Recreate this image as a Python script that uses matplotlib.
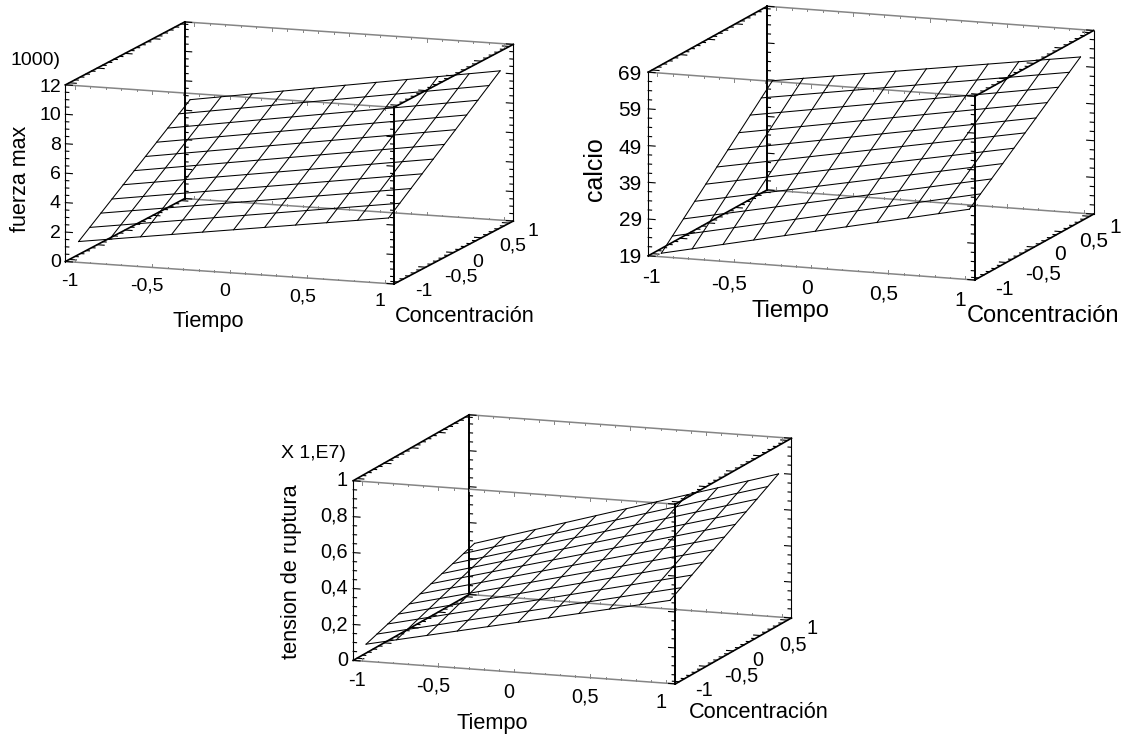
import numpy as np
import matplotlib
matplotlib.use('Agg')
import matplotlib.pyplot as plt
from mpl_toolkits.mplot3d import proj3d

plt.rcParams['font.family'] = ['Liberation Sans', 'DejaVu Sans']

ANCHO, ALTO = 1124, 734

# Malla comun a las tres superficies
tiempo = [-1, -0.8, -0.6, -0.4, -0.2, 0, 0.2, 0.4, 0.6, 0.8, 1]
concentracion = [-1, -0.8, -0.6, -0.4, -0.2, 0, 0.2, 0.4, 0.6, 0.8, 1]

lim_tiempo = (-1.06, 1.06)
lim_conc = (-1.07, 1.07)

fuerza_frente = [1.26, 1.56, 1.87, 2.17, 2.48, 2.78, 3.08, 3.39, 3.69, 4.0, 4.3]
fuerza_fondo = [6.9, 7.24, 7.58, 7.92, 8.26, 8.6, 8.94, 9.28, 9.62, 9.96, 10.3]
fuerza_izq = [1.26, 1.82, 2.39, 2.95, 3.52, 4.08, 4.64, 5.21, 5.77, 6.34, 6.9]
fuerza_der = [4.3, 4.9, 5.5, 6.1, 6.7, 7.3, 7.9, 8.5, 9.1, 9.7, 10.3]

calcio_frente = [19.3, 21.1, 22.9, 24.8, 26.6, 28.4, 30.2, 32.0, 33.9, 35.7, 37.5]
calcio_fondo = [49.5, 50.8, 52.0, 53.3, 54.6, 55.9, 57.1, 58.4, 59.7, 60.9, 62.2]
calcio_izq = [19.3, 22.3, 25.3, 28.4, 31.4, 34.4, 37.4, 40.4, 43.5, 46.5, 49.5]
calcio_der = [37.5, 40.0, 42.4, 44.9, 47.4, 49.9, 52.3, 54.8, 57.3, 59.7, 62.2]

tension_frente = [.082, .119, .155, .192, .229, .266, .302, .339, .376, .412, .449]
tension_fondo = [.30, .351, .402, .453, .504, .555, .606, .657, .708, .759, .81]
tension_izq = [.082, .104, .126, .147, .169, .191, .213, .235, .256, .278, .30]
tension_der = [.449, .485, .521, .557, .593, .630, .666, .702, .738, .774, .81]

# Marcas de los ejes
marcas_xy = [-1, -0.5, 0, 0.5, 1]
textos_xy = ['-1', '-0,5', '0', '0,5', '1']

marcas_fuerza = [0, 2, 4, 6, 8, 10, 12]
textos_fuerza = ['0', '2', '4', '6', '8', '10', '12']
marcas_calcio = [19, 29, 39, 49, 59, 69]
textos_calcio = ['19', '29', '39', '49', '59', '69']
marcas_tension = [0, 0.2, 0.4, 0.6, 0.8, 1]
textos_tension = ['0', '0,2', '0,4', '0,6', '0,8', '1']


def rotulo(fig, x, y, texto, tam=14, ha='center', rot=0):
    # x, y en pixeles de la imagen, con y hacia abajo
    fig.text(x / ANCHO, 1 - y / ALTO, texto, fontsize=tam, ha=ha, va='center',
             rotation=rot, color='black')


def encajar(ax, esq_a, esq_b):
    # coloca los ejes para que dos esquinas de la caja caigan en esos pixeles
    lx, ly, lz = ax.get_xlim(), ax.get_ylim(), ax.get_zlim()
    M = ax.get_proj()
    xa, ya, _ = proj3d.proj_transform(lx[0], ly[0], lz[0], M)
    xb, yb, _ = proj3d.proj_transform(lx[1], ly[1], lz[1], M)
    v = ax.viewLim
    lado = (esq_b[0] - esq_a[0]) / (xb - xa) * v.width
    izq = esq_a[0] - (xa - v.x0) / v.width * lado
    abajo = (ALTO - esq_a[1]) - (ya - v.y0) / v.height * lado
    ax.set_position([izq / ANCHO, abajo / ALTO, lado / ANCHO, lado / ALTO])


def dibujar_panel(fig, frente, fondo, izq, der, lim_z, marcas_z, menor_z, vista, aspecto, esq_a, esq_b):
    ax = fig.add_axes([0, 0, 0.5, 0.5], projection='3d', proj_type='ortho')
    ax.set_axis_off()
    ax.patch.set_visible(False)

    x0, x1 = lim_tiempo
    y0, y1 = lim_conc
    z0, z1 = lim_z
    alto_z = z1 - z0
    gris = '#858585'

    # caja: aristas en x grises, en y negras, verticales negras
    for y, z in [(y0, z0), (y1, z0), (y0, z1), (y1, z1)]:
        ax.plot([x0, x1], [y, y], [z, z], color=gris, lw=1.1)
    for x, z in [(x0, z0), (x1, z0), (x0, z1), (x1, z1)]:
        ax.plot([x, x], [y0, y1], [z, z], color='black', lw=1.2)
    ax.plot([x0, x0], [y0, y0], [z0, z1], color='black', lw=0.8)
    ax.plot([x1, x1], [y1, y1], [z0, z1], color='black', lw=0.8)
    ax.plot([x0, x0], [y1, y1], [z0, z1], color='black', lw=1.4)
    ax.plot([x1, x1], [y0, y0], [z0, z1], color='black', lw=1.4)

    # marcas en z hacia dentro de la caja
    for z in np.arange(z0, z1 + 1e-9, menor_z):
        largo = 0.045 if np.isclose(marcas_z, z).any() else 0.022
        ax.plot([x0, x0 + largo], [y0, y0], [z, z], color='black', lw=0.8)
        ax.plot([x0, x0 + largo], [y1, y1], [z, z], color='black', lw=0.8)
        ax.plot([x1, x1 - largo], [y0, y0], [z, z], color='black', lw=0.8)
        ax.plot([x1, x1 - largo], [y1, y1], [z, z], color='black', lw=0.8)

    # marcas en y y en x
    for y in np.arange(-1, 1.01, 0.1):
        largo = 0.045 if np.isclose(marcas_xy, y).any() else 0.022
        for z in (z0, z1):
            ax.plot([x0, x0 + largo], [y, y], [z, z], color='black', lw=0.8)
            ax.plot([x1, x1 - largo], [y, y], [z, z], color='black', lw=0.8)
    for x in np.arange(-1, 1.01, 0.1):
        largo = 0.018 * alto_z if np.isclose(marcas_xy, x).any() else 0.009 * alto_z
        for y in (y0, y1):
            ax.plot([x, x], [y, y], [z0, z0 + largo], color=gris, lw=0.7)
            ax.plot([x, x], [y, y], [z1, z1 - largo], color=gris, lw=0.7)

    # superficie: cada linea va de un borde al opuesto
    for i, x in enumerate(tiempo):
        ax.plot([x, x], [concentracion[0], concentracion[-1]], [frente[i], fondo[i]],
                color='black', lw=0.75)
    for j, y in enumerate(concentracion):
        ax.plot([tiempo[0], tiempo[-1]], [y, y], [izq[j], der[j]], color='black', lw=0.75)

    ax.set_xlim(x0, x1, view_margin=0)
    ax.set_ylim(y0, y1, view_margin=0)
    ax.set_zlim(z0, z1, view_margin=0)
    ax.view_init(elev=vista[0], azim=vista[1])
    ax.set_box_aspect(aspecto)
    encajar(ax, esq_a, esq_b)
    return ax


def rotular_panel(fig, pos_z, textos_z, pos_x, pos_y, pos_tiempo, pos_conc, pos_zlab, zlab, tam_marca, tam_lab, tam_zlab):
    for (x, y), t in zip(pos_z, textos_z):
        rotulo(fig, x, y, t, tam=tam_marca, ha='right')
    for (x, y), t in zip(pos_x, textos_xy):
        rotulo(fig, x, y, t, tam=tam_marca)
    for (x, y), t in zip(pos_y, textos_xy):
        rotulo(fig, x, y, t, tam=tam_marca)
    rotulo(fig, pos_tiempo[0], pos_tiempo[1], 'Tiempo', tam=tam_lab)
    rotulo(fig, pos_conc[0], pos_conc[1], 'Concentración', tam=tam_lab)
    rotulo(fig, pos_zlab[0], pos_zlab[1], zlab, tam=tam_zlab, rot=90)


fig = plt.figure(figsize=(ANCHO / 100, ALTO / 100), dpi=100)

# --- Panel 1: fuerza max ---
dibujar_panel(fig, fuerza_frente, fuerza_fondo, fuerza_izq, fuerza_der, (0, 12),
              marcas_fuerza, 0.5, (10.95, -70.2), (350, 353, 180.3), (65.4, 261.5), (513.3, 45.5))
rotular_panel(fig, [(61, 262.5), (61, 233), (61, 203), (61, 174.5), (61, 145), (61, 115), (61, 87)],
              textos_fuerza,
              [(70, 282), (147, 286), (224.6, 292), (302.5, 297), (380, 302)],
              [(424, 292), (461, 277), (478, 262), (513, 246), (533, 231.5)],
              (208, 322), (465, 317), (20, 179), 'fuerza max', 14, 15.7, 15.5)
rotulo(fig, 35, 60.5, '1000)')

# --- Panel 2: calcio ---
dibujar_panel(fig, calcio_frente, calcio_fondo, calcio_izq, calcio_der, (19, 69),
              marcas_calcio, 2.5, (11.7, -69.9), (347.8, 346.1, 187.6), (648.2, 255.8), (1093.6, 31.6))
rotular_panel(fig, [(641.7, 257.5), (641.7, 221), (641.7, 184), (641.7, 148), (641.7, 111), (641.7, 74.7)],
              textos_calcio,
              [(651.6, 277.4), (729, 284), (807, 288.4), (884, 294), (960, 300.7)],
              [(1004.7, 289.7), (1042.6, 274), (1060, 254), (1094, 241.5), (1115, 227)],
              (790, 310.6), (1043, 316), (595, 169.4), 'calcio', 15, 17, 18)

# --- Panel 3: tension de ruptura ---
dibujar_panel(fig, tension_frente, tension_fondo, tension_izq, tension_der, (0, 1),
              marcas_tension, 0.05, (11.74, -70.3), (342.2, 344, 183.5), (353.2, 660.4), (791.4, 438.7))
rotular_panel(fig, [(348, 660), (348, 625), (348, 588), (348, 552), (348, 516), (348, 480.7)],
              textos_tension,
              [(356.8, 680.6), (433.6, 685.6), (509, 692.3), (585, 697.4), (661, 703)],
              [(704, 691), (741.4, 676.5), (757.5, 660.4), (793, 644.6), (812, 629)],
              (492, 724), (759, 712.5), (291.4, 571.4), 'tension de ruptura', 14.3, 15.7, 15.7)
rotulo(fig, 313.6, 453.8, 'X 1,E7)')

fig.savefig('out.png', dpi=100)
